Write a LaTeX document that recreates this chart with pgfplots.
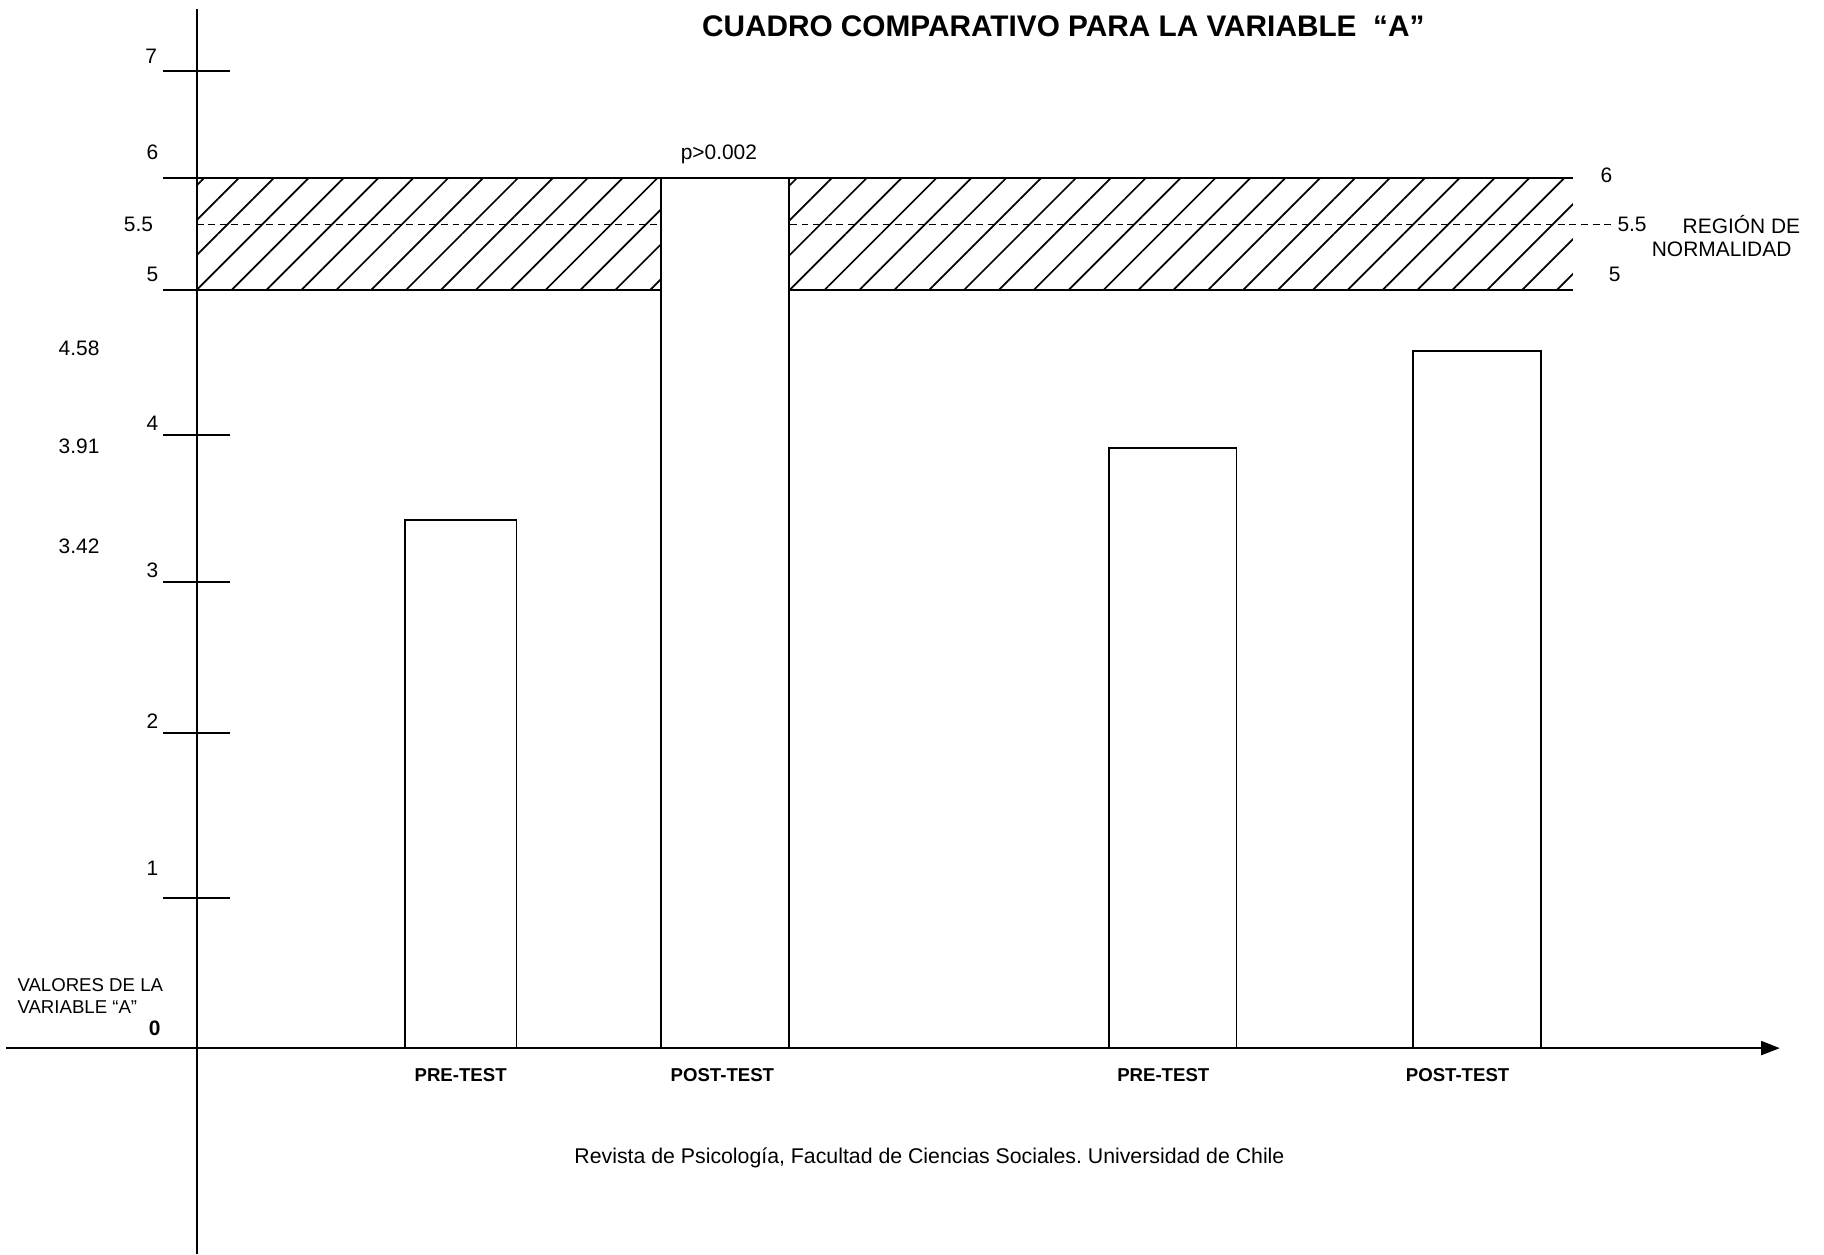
\documentclass[border=0pt]{standalone}
\usepackage{fontspec}
\setmainfont{Liberation Sans}
\usepackage{pgfplots}
\pgfplotsset{compat=1.18}
\usetikzlibrary{patterns.meta,arrows.meta}

% the drawn scale is uneven: map each value to its height above the x axis
\pgfplotsset{
  uneven y/.style={
    y coord trafo/.code={\pgfmathparse{(##1)<1 ? 129*(##1) : ((##1)<2 ? 129+142*((##1)-1) : ((##1)<3 ? 271+130*((##1)-2) : ((##1)<4 ? 401+126*((##1)-3) : ((##1)<5 ? 527+125*((##1)-4) : ((##1)<5.5 ? 652+112*((##1)-5) : ((##1)<6 ? 708+80*((##1)-5.5) : 748+92*((##1)-6)))))))}},
  },
}

\begin{document}
\begin{tikzpicture}
\begin{axis}[
  scale only axis, width=762.5pt, height=535pt,
  uneven y,
  axis lines=middle,
  x axis line style={line width=0.9pt, -{Triangle[length=8pt,width=6pt]}},
  y axis line style={line width=0.9pt, -},
  xmin=-164, xmax=1361,
  ymin=-1.372, ymax=7.576,
  ytick={1,2,3,4,5,6,7}, yticklabel=\empty,
  ytick align=center, major tick length=28.5pt,
  ytick style={line width=0.8pt, black},
  xtick={227,452,831,1084},
  xticklabels={PRE-TEST,POST-TEST,PRE-TEST,POST-TEST},
  xticklabel style={font=\fontsize{8}{10}\selectfont\bfseries, anchor=base, yshift=0pt},
  xtick style={draw=none},
  clip=false,
]
% region of normality, 5 to 6
\addplot[draw=none, pattern={Lines[angle=45,distance=10.6pt,line width=0.75pt]}]
  coordinates {(0,5) (1183,5) (1183,6) (0,6)} -- cycle;
\addplot[line width=0.8pt] coordinates {(0,6) (1183,6)};
\addplot[line width=0.8pt] coordinates {(0,5) (1183,5)};
\addplot[line width=0.8pt, dash pattern=on 3pt off 2pt] coordinates {(0,5.5) (1216,5.5)};

% bars
\addplot[ybar, bar width=96, bar shift=0pt, fill=white, draw=black, line width=0.8pt]
  coordinates {(227,3.42)};
\addplot[ybar, bar width=110, bar shift=0pt, fill=white, draw=black, line width=0.8pt]
  coordinates {(454,6)};
\addplot[ybar, bar width=110, bar shift=0pt, fill=white, draw=black, line width=0.8pt]
  coordinates {(839,3.91)};
\addplot[ybar, bar width=110, bar shift=0pt, fill=white, draw=black, line width=0.8pt]
  coordinates {(1101,4.58)};
\end{axis}

\begin{scope}[x=0.5pt, y=-0.5pt, shift={(-2.5pt,539pt)}]
  \node[font=\fontsize{12.8}{15}\selectfont\bfseries] at (914,23)
    {CUADRO COMPARATIVO PARA LA VARIABLE\ \ “A”};
  \begin{scope}[font=\fontsize{9}{11}\selectfont]
    \node at (130,48) {7};
    \node at (131,131) {6};
    \node at (119,193) {5.5};
    \node at (131,236) {5};
    \node at (131,364) {4};
    \node at (131,490) {3};
    \node at (131,620) {2};
    \node at (131,746) {1};
    \node at (68,299) {4.58};
    \node at (68,384) {3.91};
    \node at (68,470) {3.42};
    \node at (618,133) {p>0.002};
    \node at (1381,151) {6};
    \node at (1403,193) {5.5};
    \node at (1497,193) {REGIÓN DE};
    \node at (1480,214) {NORMALIDAD};
    \node at (1388,236) {5};
  \end{scope}
  \node[font=\fontsize{8}{10}\selectfont, anchor=west] at (8,847) {VALORES DE LA};
  \node[font=\fontsize{8}{10}\selectfont, anchor=west] at (8,866) {VARIABLE “A”};
  \node[font=\fontsize{9}{11}\selectfont\bfseries] at (133,884) {0};
  \node[font=\fontsize{9.15}{11}\selectfont] at (799,995)
    {Revista de Psicología, Facultad de Ciencias Sociales.\ Universidad de Chile};
  \pgfresetboundingbox
  \path[use as bounding box] (0,0) rectangle (1568,1078);
\end{scope}
\end{tikzpicture}
\end{document}
